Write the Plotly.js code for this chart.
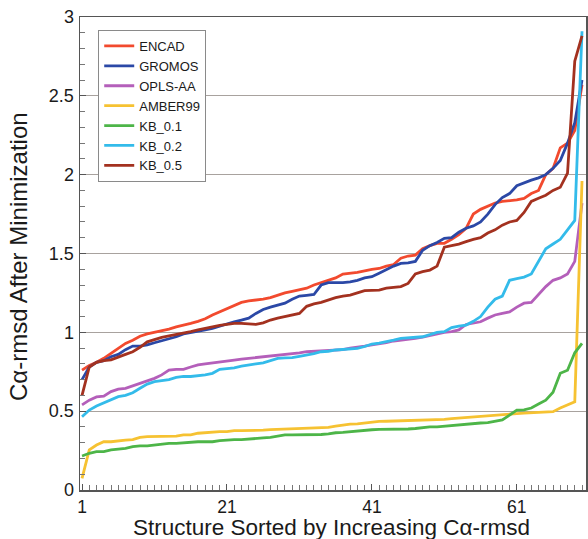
<!DOCTYPE html>
<html>
<head>
<meta charset="utf-8">
<script src="https://cdn.plot.ly/plotly-3.0.1.min.js"></script>
<style>html,body{margin:0;padding:0;background:#fff;}#chart{width:588px;height:539px;}</style>
</head>
<body>
<div id="chart"></div>
<script>
var structures = [];
for (var k = 1; k <= 70; k++) structures.push(k);

var seriesNames = ["ENCAD", "GROMOS", "OPLS-AA", "AMBER99", "KB_0.1", "KB_0.2", "KB_0.5"];
var xTitle = "Structure Sorted by Increasing C\u03b1-rmsd";
var yTitle = "C\u03b1-rmsd After Minimization";

var encad = [0.76,0.79,0.81,0.835,0.867,0.90,0.93,0.95,0.975,0.99,
1.0,1.01,1.02,1.035,1.045,1.057,1.07,1.086,1.11,1.13,
1.15,1.17,1.19,1.20,1.205,1.21,1.22,1.236,1.25,1.26,
1.27,1.28,1.30,1.315,1.33,1.345,1.37,1.375,1.38,1.39,
1.40,1.405,1.42,1.43,1.47,1.484,1.49,1.53,1.55,1.564,
1.565,1.59,1.62,1.66,1.75,1.78,1.80,1.82,1.83,1.835,
1.84,1.85,1.88,1.90,2.0,2.04,2.17,2.2,2.28,2.57];

var gromos = [0.70,0.78,0.81,0.82,0.845,0.86,0.89,0.913,0.913,0.92,
0.934,0.947,0.96,0.972,0.99,0.998,1.004,1.015,1.025,1.04,
1.057,1.067,1.078,1.09,1.12,1.145,1.16,1.173,1.185,1.21,
1.23,1.235,1.24,1.30,1.315,1.315,1.315,1.32,1.33,1.345,
1.353,1.375,1.40,1.42,1.437,1.44,1.45,1.52,1.55,1.57,
1.596,1.60,1.635,1.66,1.675,1.70,1.75,1.81,1.855,1.88,
1.93,1.95,1.965,1.98,2.0,2.04,2.09,2.2,2.33,2.6];

var oplsaa = [0.54,0.57,0.59,0.595,0.624,0.64,0.645,0.66,0.677,0.693,
0.708,0.73,0.76,0.765,0.765,0.78,0.793,0.80,0.807,0.814,
0.818,0.824,0.83,0.835,0.838,0.845,0.85,0.856,0.86,0.862,
0.87,0.877,0.88,0.883,0.885,0.888,0.89,0.90,0.905,0.912,
0.92,0.926,0.934,0.945,0.95,0.955,0.962,0.97,0.98,0.99,
1.0,1.005,1.015,1.05,1.06,1.067,1.09,1.11,1.12,1.13,
1.16,1.185,1.19,1.24,1.29,1.33,1.345,1.37,1.45,1.82];

var amber99 = [0.074,0.254,0.285,0.306,0.306,0.313,0.317,0.32,0.334,0.338,
0.338,0.338,0.338,0.342,0.349,0.349,0.36,0.363,0.37,0.37,
0.37,0.376,0.376,0.376,0.378,0.38,0.383,0.385,0.386,0.388,
0.39,0.39,0.393,0.395,0.397,0.405,0.412,0.418,0.42,0.425,
0.433,0.435,0.436,0.437,0.44,0.44,0.444,0.444,0.444,0.446,
0.448,0.452,0.456,0.46,0.465,0.468,0.472,0.476,0.48,0.482,
0.485,0.488,0.49,0.494,0.497,0.497,0.52,0.54,0.56,1.96];

var kb01 = [0.216,0.233,0.243,0.243,0.254,0.258,0.264,0.275,0.28,0.28,
0.285,0.292,0.296,0.296,0.30,0.30,0.306,0.306,0.306,0.313,
0.317,0.32,0.32,0.322,0.326,0.33,0.334,0.34,0.349,0.349,
0.349,0.349,0.349,0.352,0.356,0.363,0.365,0.37,0.375,0.38,
0.382,0.385,0.385,0.386,0.386,0.387,0.39,0.395,0.40,0.40,
0.405,0.41,0.412,0.418,0.423,0.425,0.427,0.435,0.445,0.475,
0.507,0.508,0.52,0.545,0.57,0.62,0.74,0.76,0.87,0.93];

var kb02 = [0.465,0.507,0.533,0.554,0.575,0.592,0.60,0.617,0.645,0.672,
0.687,0.693,0.70,0.714,0.72,0.72,0.725,0.73,0.74,0.765,
0.77,0.775,0.786,0.795,0.80,0.807,0.82,0.835,0.838,0.84,
0.848,0.856,0.865,0.877,0.88,0.888,0.89,0.895,0.898,0.91,
0.926,0.932,0.94,0.95,0.962,0.965,0.968,0.972,0.985,1.0,
1.004,1.03,1.04,1.046,1.07,1.10,1.16,1.21,1.23,1.33,
1.34,1.35,1.37,1.45,1.53,1.56,1.59,1.65,1.71,2.91];

var kb05 = [0.60,0.78,0.81,0.82,0.825,0.845,0.86,0.877,0.905,0.94,
0.955,0.968,0.977,0.985,0.993,1.004,1.015,1.025,1.036,1.044,
1.05,1.057,1.057,1.055,1.05,1.06,1.078,1.09,1.10,1.11,
1.12,1.165,1.18,1.19,1.205,1.22,1.23,1.236,1.25,1.264,
1.266,1.268,1.28,1.285,1.29,1.31,1.37,1.385,1.395,1.42,
1.54,1.55,1.56,1.575,1.59,1.60,1.63,1.65,1.68,1.70,
1.71,1.76,1.83,1.85,1.87,1.90,1.92,2.01,2.72,2.88];

var seriesValues = [encad, gromos, oplsaa, amber99, kb01, kb02, kb05];
var seriesColors = ["#f24a2e", "#2b48a6", "#b45fba", "#f6c232", "#4db548", "#33bbea", "#a3311f"];

var xTickVals = [1, 21, 41, 61];
var xTickText = ["1", "21", "41", "61"];
var yTickVals = [0, 0.5, 1, 1.5, 2, 2.5, 3];
var yTickText = ["0", "0.5", "1", "1.5", "2", "2.5", "3"];

var traces = seriesNames.map(function (name, i) {
  return {
    x: structures,
    y: seriesValues[i],
    name: name,
    type: "scatter",
    mode: "lines",
    line: {color: seriesColors[i], width: 2.8}
  };
});

var layout = {
  width: 588,
  height: 539,
  margin: {l: 80, r: 2, t: 17, b: 49},
  paper_bgcolor: "#ffffff",
  plot_bgcolor: "#ffffff",
  font: {family: "Liberation Sans, Arial, sans-serif", color: "#1a1a1a"},
  showlegend: true,
  legend: {
    x: 0.036, y: 0.9725, xanchor: "left", yanchor: "top",
    bgcolor: "#ffffff", bordercolor: "#8a8a8a", borderwidth: 1,
    font: {size: 13, color: "#1a1a1a"},
    tracegroupgap: 0
  },
  xaxis: {
    range: [0.72, 70.55],
    tickmode: "array", tickvals: xTickVals, ticktext: xTickText,
    ticks: "inside", ticklen: 6, tickcolor: "#555",
    minor: {dtick: 1, tick0: 0, ticks: "inside", ticklen: 5, tickcolor: "#777", showgrid: false},
    showgrid: false, zeroline: false,
    showline: true, linecolor: "#555", linewidth: 1.5, mirror: true,
    tickfont: {size: 17.5, color: "#1a1a1a"}
  },
  yaxis: {
    range: [0, 3],
    tickmode: "array", tickvals: yTickVals, ticktext: yTickText,
    ticks: "inside", ticklen: 6, tickcolor: "#555",
    minor: {dtick: 0.1, tick0: 0, ticks: "inside", ticklen: 5, tickcolor: "#777", showgrid: false},
    showgrid: true, gridcolor: "#a8a29e", gridwidth: 1,
    zeroline: false,
    showline: true, linecolor: "#555", linewidth: 1.5, mirror: true,
    tickfont: {size: 18, color: "#1a1a1a"},
    ticklabelstandoff: 1
  },
  annotations: [
    {text: xTitle, xref: "paper", yref: "paper", x: 0.497, y: -0.0795,
     xanchor: "center", yanchor: "middle", showarrow: false,
     font: {size: 22.5, color: "#1a1a1a"}},
    {text: yTitle, xref: "paper", yref: "paper", x: -0.1225, y: 0.4926,
     xanchor: "center", yanchor: "middle", showarrow: false, textangle: -90,
     font: {size: 24, color: "#1a1a1a"}}
  ]
};

Plotly.newPlot("chart", traces, layout, {displayModeBar: false, staticPlot: true});
</script>
</body>
</html>
